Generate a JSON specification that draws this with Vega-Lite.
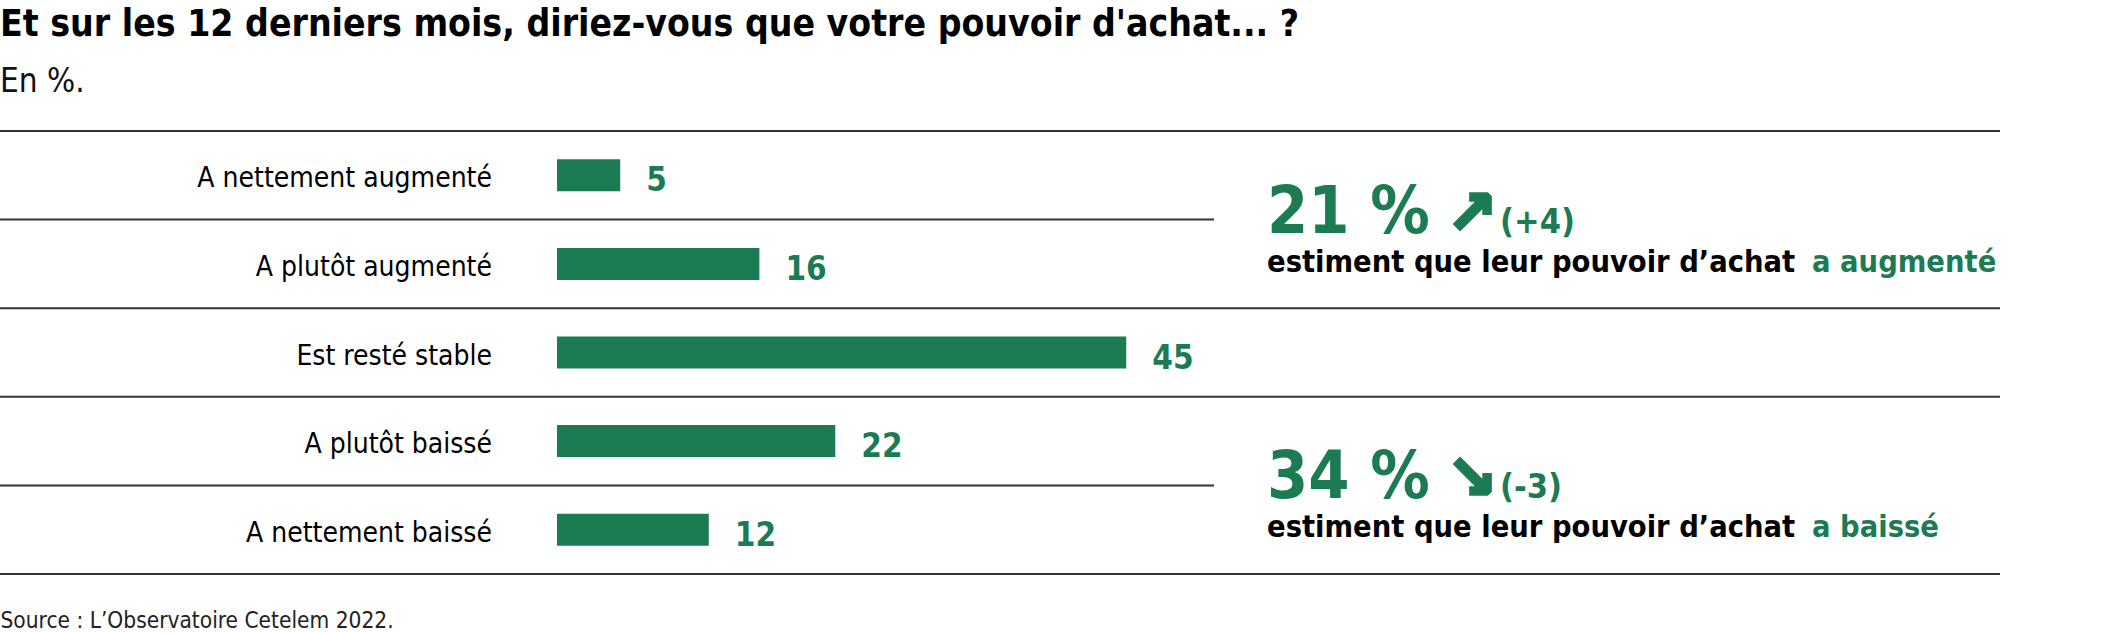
{
  "$schema": "https://vega.github.io/schema/vega-lite/v6.json",
  "width": 2000,
  "height": 443,
  "autosize": "none",
  "padding": {"left": 0, "top": 131, "right": 125, "bottom": 59},
  "background": "white",
  "config": {"view": {"stroke": null}, "font": "Liberation Sans Narrow, DejaVu Sans Condensed, Roboto"},
  "title": {
    "text": "Et sur les 12 derniers mois, diriez-vous que votre pouvoir d'achat... ?",
    "subtitle": "En %.",
    "anchor": "start",
    "frame": "group",
    "fontSize": 37,
    "fontWeight": "bold",
    "color": "#000000",
    "subtitleFontSize": 33,
    "subtitleFontWeight": 300,
    "subtitleColor": "#111111",
    "subtitlePadding": 22,
    "offset": 30
  },
  "datasets": {
    "bars": [
      {"categorie": "A nettement augmenté", "valeur": 5},
      {"categorie": "A plutôt augmenté", "valeur": 16},
      {"categorie": "Est resté stable", "valeur": 45},
      {"categorie": "A plutôt baissé", "valeur": 22},
      {"categorie": "A nettement baissé", "valeur": 12}
    ],
    "notes": [
      {"ancre": "A plutôt augmenté", "part": "21 %", "fleche": "↗", "evolution": "(+4)", "texte": "estiment que leur pouvoir d’achat", "sens": "a augmenté"},
      {"ancre": "A nettement baissé", "part": "34 %", "fleche": "↘", "evolution": "(-3)", "texte": "estiment que leur pouvoir d’achat", "sens": "a baissé"}
    ]
  },
  "data": {"name": "bars"},
  "layer": [
    {
      "transform": [{"filter": {"field": "categorie", "oneOf": ["A nettement augmenté", "Est resté stable", "A plutôt baissé"]}}],
      "mark": {"type": "rule", "color": "#333333", "strokeWidth": 2},
      "encoding": {
        "y": {"field": "categorie", "type": "nominal", "bandPosition": 0, "axis": null,
              "scale": {"domain": ["A nettement augmenté", "A plutôt augmenté", "Est resté stable", "A plutôt baissé", "A nettement baissé"], "paddingInner": 0, "paddingOuter": 0}}
      }
    },
    {
      "transform": [{"filter": {"field": "categorie", "equal": "A nettement baissé"}}],
      "mark": {"type": "rule", "color": "#333333", "strokeWidth": 2},
      "encoding": {
        "y": {"field": "categorie", "type": "nominal", "bandPosition": 1, "axis": null}
      }
    },
    {
      "transform": [{"filter": {"field": "categorie", "oneOf": ["A plutôt augmenté", "A nettement baissé"]}}],
      "mark": {"type": "rule", "color": "#333333", "strokeWidth": 2},
      "encoding": {
        "y": {"field": "categorie", "type": "nominal", "bandPosition": 0, "axis": null},
        "x": {"datum": -44.03, "type": "quantitative"},
        "x2": {"datum": 51.94}
      }
    },
    {
      "mark": {"type": "bar", "color": "#1c7b53", "size": 32},
      "encoding": {
        "y": {"field": "categorie", "type": "nominal", "axis": null},
        "x": {"field": "valeur", "type": "quantitative",
              "scale": {"domain": [-44.03, 114.07], "nice": false, "zero": false},
              "axis": {"title": "Source : L’Observatoire Cetelem 2022.", "domain": false, "ticks": false, "labels": false, "grid": false,
                       "titleAnchor": "start", "titleAlign": "left", "titleX": 0, "titleY": 53, "titleBaseline": "alphabetic",
                       "titleFontSize": 22.5, "titleFontWeight": 300, "titleColor": "#222222"}},
        "x2": {"datum": 0}
      }
    },
    {
      "mark": {"type": "text", "align": "left", "baseline": "middle", "dx": 26, "dy": 6, "fontWeight": "bold", "fontSize": 33, "color": "#1c7b53"},
      "encoding": {
        "y": {"field": "categorie", "type": "nominal", "axis": null},
        "x": {"field": "valeur", "type": "quantitative"},
        "text": {"field": "valeur", "type": "quantitative"}
      }
    },
    {
      "mark": {"type": "text", "align": "right", "baseline": "middle", "dx": -65, "dy": 4, "fontSize": 28, "color": "#000000"},
      "encoding": {
        "y": {"field": "categorie", "type": "nominal", "axis": null},
        "x": {"datum": 0, "type": "quantitative"},
        "text": {"field": "categorie"}
      }
    },
    {
      "data": {"name": "notes"},
      "mark": {"type": "text", "align": "left", "baseline": "alphabetic", "dy": 13, "fontWeight": "bold", "fontSize": 66, "color": "#1c7b53"},
      "encoding": {
        "y": {"field": "ancre", "type": "nominal", "bandPosition": 0, "axis": null},
        "x": {"datum": 56.13, "type": "quantitative"},
        "text": {"field": "part"}
      }
    },
    {
      "data": {"name": "notes"},
      "mark": {"type": "text", "align": "left", "baseline": "alphabetic", "dy": 13, "fontWeight": "bold", "fontSize": 60, "color": "#1c7b53", "stroke": "#1c7b53", "strokeWidth": 3.5, "font": "DejaVu Sans"},
      "encoding": {
        "y": {"field": "ancre", "type": "nominal", "bandPosition": 0, "axis": null},
        "x": {"datum": 70.36, "type": "quantitative"},
        "text": {"field": "fleche"}
      }
    },
    {
      "data": {"name": "notes"},
      "mark": {"type": "text", "align": "left", "baseline": "alphabetic", "dy": 13, "fontWeight": "bold", "fontSize": 34, "color": "#1c7b53"},
      "encoding": {
        "y": {"field": "ancre", "type": "nominal", "bandPosition": 0, "axis": null},
        "x": {"datum": 74.55, "type": "quantitative"},
        "text": {"field": "evolution"}
      }
    },
    {
      "data": {"name": "notes"},
      "mark": {"type": "text", "align": "left", "baseline": "alphabetic", "dy": 52, "fontWeight": "bold", "fontSize": 30.5, "color": "#000000"},
      "encoding": {
        "y": {"field": "ancre", "type": "nominal", "bandPosition": 0, "axis": null},
        "x": {"datum": 56.13, "type": "quantitative"},
        "text": {"field": "texte"}
      }
    },
    {
      "data": {"name": "notes"},
      "mark": {"type": "text", "align": "left", "baseline": "alphabetic", "dy": 52, "fontWeight": "bold", "fontSize": 30.5, "color": "#1c7b53"},
      "encoding": {
        "y": {"field": "ancre", "type": "nominal", "bandPosition": 0, "axis": null},
        "x": {"datum": 99.21, "type": "quantitative"},
        "text": {"field": "sens"}
      }
    }
  ]
}
